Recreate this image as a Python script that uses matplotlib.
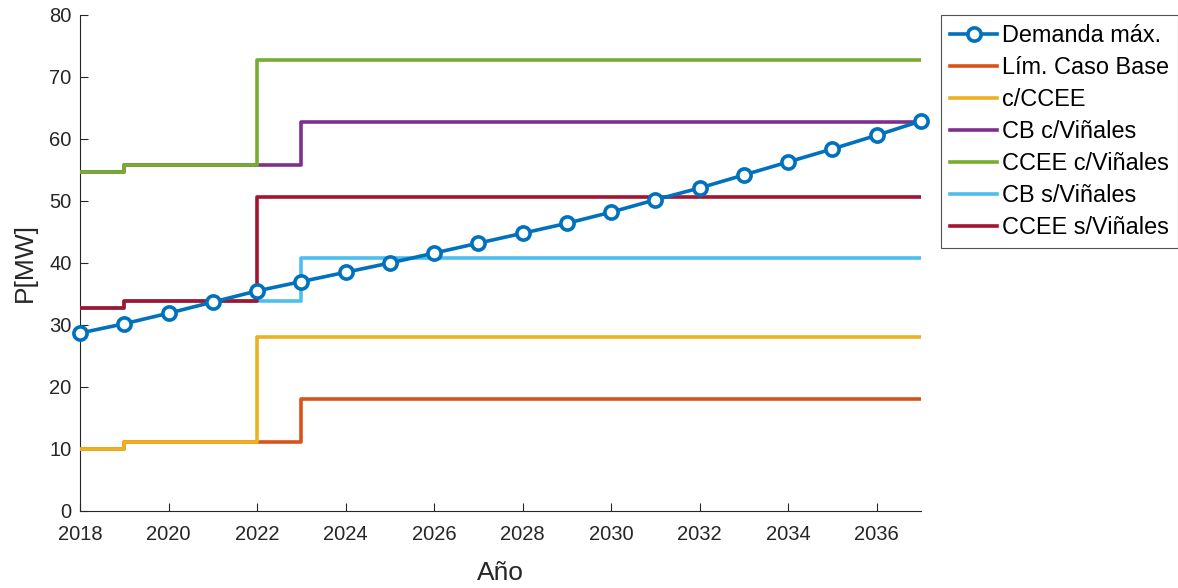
import matplotlib
matplotlib.use("Agg")
import matplotlib.pyplot as plt
import numpy as np

plt.rcParams['font.family'] = ['Liberation Sans', 'DejaVu Sans']

years = list(range(2018, 2038))
demanda = [28.7, 30.2, 31.9, 33.7, 35.5, 37.0, 38.5, 40.0, 41.6, 43.2,
           44.8, 46.4, 48.2, 50.2, 52.1, 54.2, 56.3, 58.4, 60.6, 62.9]
lim_caso_base = [10.0, 11.1, 11.1, 11.1, 11.1] + [18.1] * 15
c_ccee = [10.0, 11.1, 11.1, 11.1] + [28.0] * 16
cb_c_vinales = [54.7, 55.8, 55.8, 55.8, 55.8] + [62.8] * 15
ccee_c_vinales = [54.7, 55.8, 55.8, 55.8] + [72.7] * 16
cb_s_vinales = [32.7, 33.8, 33.8, 33.8, 33.8] + [40.8] * 15
ccee_s_vinales = [32.7, 33.8, 33.8, 33.8] + [50.7] * 16

labels = ['Demanda máx.', 'Lím. Caso Base', 'c/CCEE', 'CB c/Viñales',
          'CCEE c/Viñales', 'CB s/Viñales', 'CCEE s/Viñales']
colors = ['#0072BD', '#D95319', '#EDB120', '#7E2F8E', '#77AC30', '#4DBEEE', '#A2142F']

fig = plt.figure(figsize=(11.78, 5.88), dpi=100)
ax = fig.add_axes([80/1178, 77/588, (921-80)/1178, (511-15)/588])

lw = 2.6
step_series = [lim_caso_base, c_ccee, cb_c_vinales, ccee_c_vinales, cb_s_vinales, ccee_s_vinales]
handles = []
hd, = ax.plot(years, demanda, '-o', color=colors[0], lw=lw, ms=9.5, mfc='white',
              mec=colors[0], mew=2.6, zorder=10, label=labels[0], clip_on=False)
handles.append(hd)
for s, c, l in zip(step_series, colors[1:], labels[1:]):
    h, = ax.step(years, s, where='post', color=c, lw=lw, label=l, zorder=3)
    handles.append(h)

ax.set_xlim(2018, 2037)
ax.set_ylim(0, 80)
ax.set_xticks(range(2018, 2037, 2))
ax.set_yticks(range(0, 81, 10))
for sp in ['top', 'right']:
    ax.spines[sp].set_visible(False)
for sp in ['left', 'bottom']:
    ax.spines[sp].set_color('#262626')
    ax.spines[sp].set_linewidth(0.8)
ax.tick_params(direction='in', length=6, width=0.8, colors='#262626', labelsize=14.5)
ax.tick_params(axis='x', pad=10)
ax.tick_params(axis='y', pad=6)
ax.set_xlabel('Año', fontsize=19, color='#262626', labelpad=12)
ax.set_ylabel('P[MW]', fontsize=19, color='#262626', labelpad=9)

leg = ax.legend(handles=handles, loc='upper left',
                bbox_to_anchor=(941/1178, 1 - 15/588), bbox_transform=fig.transFigure,
                borderaxespad=0, fancybox=False, edgecolor='#262626', fontsize=16.9,
                handlelength=2.0, labelspacing=0.38, borderpad=0.4, handletextpad=0.2)
leg.get_frame().set_linewidth(0.8)

fig.savefig('out.png', dpi=100)
